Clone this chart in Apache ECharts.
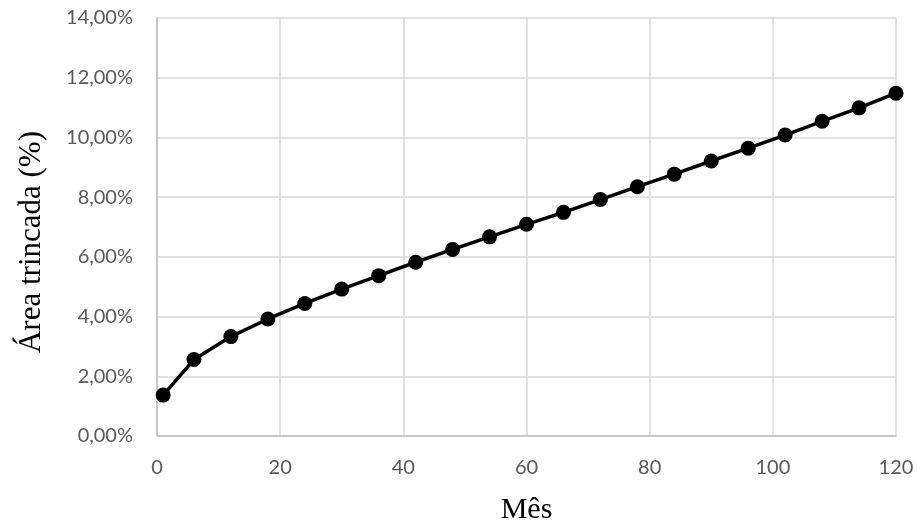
<!DOCTYPE html>
<html>
<head>
<meta charset="utf-8">
<script src="https://cdn.jsdelivr.net/npm/echarts@6/dist/echarts.min.js"></script>
<style>html,body{margin:0;padding:0;background:#fff;}#c{width:917px;height:522px;}</style>
</head>
<body>
<div id="c"></div>
<script>
const months = [1, 6, 12, 18, 24, 30, 36, 42, 48, 54, 60, 66, 72, 78, 84, 90, 96, 102, 108, 114, 120];
const crackedArea = [1.37, 2.56, 3.33, 3.92, 4.44, 4.92, 5.37, 5.82, 6.25, 6.67, 7.09, 7.49, 7.92, 8.35, 8.77, 9.21, 9.64, 10.08, 10.54, 10.99, 11.48];
const xTicks = [0, 20, 40, 60, 80, 100, 120];
const yTicks = [0, 2, 4, 6, 8, 10, 12, 14];

const chart = echarts.init(document.getElementById('c'));
const tickFont = { fontFamily: 'Lato', fontSize: 20, color: '#595959' };
chart.setOption({
  animation: false,
  grid: { left: 157, right: 21, top: 18, bottom: 86, outerBoundsMode: 'none', containLabel: false },
  xAxis: {
    type: 'value', min: xTicks[0], max: xTicks[xTicks.length - 1], interval: 20,
    name: 'Mês', nameLocation: 'middle', nameGap: 59,
    nameTextStyle: { fontFamily: 'Liberation Serif', fontSize: 30, color: '#000' },
    axisLine: { lineStyle: { color: '#bfbfbf', width: 1.5 } },
    axisTick: { show: false },
    axisLabel: Object.assign({ margin: 22 }, tickFont),
    splitLine: { show: true, lineStyle: { color: '#d9d9d9', width: 1.5 } }
  },
  yAxis: {
    type: 'value', min: yTicks[0], max: yTicks[yTicks.length - 1], interval: 2,
    name: 'Área trincada (%)', nameLocation: 'middle', nameGap: 110,
    nameTextStyle: { fontFamily: 'Liberation Serif', fontSize: 31, color: '#000', padding: [0, 30, 0, 0] },
    axisLine: { show: true, lineStyle: { color: '#bfbfbf', width: 1.5 } },
    axisTick: { show: false },
    axisLabel: Object.assign({ margin: 24, formatter: v => v.toFixed(2).replace('.', ',') + '%' }, tickFont),
    splitLine: { show: true, lineStyle: { color: '#d9d9d9', width: 1.5 } }
  },
  series: [{
    type: 'line',
    data: months.map((m, i) => [m, crackedArea[i]]),
    lineStyle: { color: '#000', width: 3.5 },
    itemStyle: { color: '#000' },
    symbol: 'circle', symbolSize: 15
  }]
});
</script>
</body>
</html>
